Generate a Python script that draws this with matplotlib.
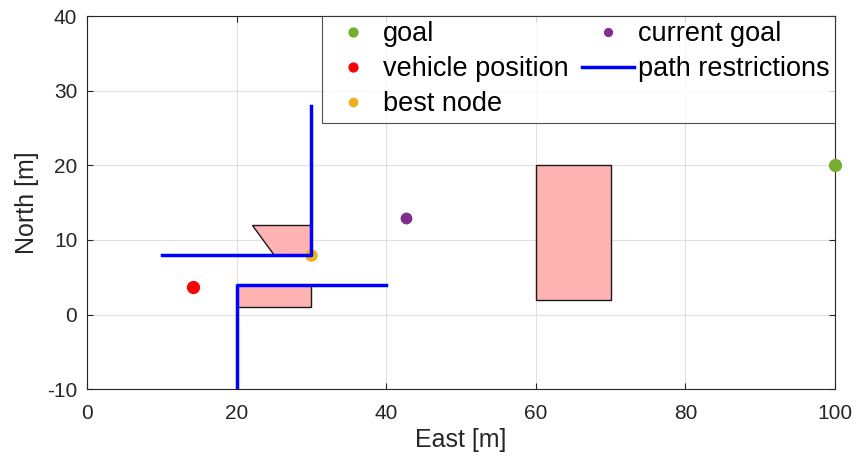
import numpy as np
import matplotlib.pyplot as plt
from matplotlib.patches import Polygon

plt.rcParams['font.family'] = ['Liberation Sans', 'DejaVu Sans']
plt.rcParams['axes.unicode_minus'] = False

# obstacles (polygon vertices, east/north)
obstacles = [
    [(22, 12), (30, 12), (30, 8), (25, 8)],
    [(20, 1), (30, 1), (30, 4), (20, 4)],
    [(60, 2), (70, 2), (70, 20), (60, 20)],
]

# path restriction polylines
path1_x = [10, 30, 30]
path1_y = [8, 8, 28]
path2_x = [20, 20, 40]
path2_y = [-10, 4, 4]

goal = (100, 20)
vehicle = (14.2, 3.7)
best_node = (30, 8)
current_goal = (42.6, 13)

DARK = (0.15, 0.15, 0.15)


def run():
    fig = plt.figure(figsize=(8.57, 4.66), dpi=100)
    ax = fig.add_axes([0.1015, 0.165, 0.8728, 0.8005])

    for verts in obstacles:
        ax.add_patch(Polygon(verts, closed=True, facecolor=(1, 0.7, 0.7),
                             edgecolor=(0.1, 0.1, 0.1), linewidth=1, zorder=2))

    ax.plot(*goal, 'o', color='#77AC30', ms=8.5, label='goal', zorder=4, clip_on=False)
    ax.plot(*vehicle, 'o', color='#FF0000', ms=8.5, label='vehicle position', zorder=4)
    ax.plot(*best_node, 'o', color='#EDB120', ms=8, label='best node', zorder=3)
    ax.plot(*current_goal, 'o', color='#7E2F8E', ms=7.5, label='current goal', zorder=4)
    ax.plot(path1_x, path1_y, color='#0000FF', lw=2.5, label='path restrictions', zorder=3)
    ax.plot(path2_x, path2_y, color='#0000FF', lw=2.5, zorder=3)

    ax.set_xlim(0, 100)
    ax.set_ylim(-10, 40)
    ax.set_xticks(np.arange(0, 101, 20))
    ax.set_yticks(np.arange(-10, 41, 10))
    ax.grid(True, color=(0.88, 0.88, 0.88), lw=0.8)
    ax.set_axisbelow(True)
    ax.tick_params(direction='in', labelsize=15, colors=DARK,
                   top=True, right=True, length=4)
    ax.tick_params(axis='x', pad=11)
    ax.tick_params(axis='y', pad=7)
    for s in ax.spines.values():
        s.set_color(DARK)
        s.set_linewidth(0.8)
    ax.set_xlabel('East [m]', fontsize=18, color=DARK, labelpad=3)
    ax.set_ylabel('North [m]', fontsize=18, color=DARK, labelpad=6)

    leg = ax.legend(loc='upper right', ncol=2, fontsize=19.5, frameon=True,
                    fancybox=False, edgecolor=DARK,
                    handlelength=1.9, handletextpad=0.15, columnspacing=0.5,
                    labelspacing=0.33, borderaxespad=0, borderpad=0.2,
                    markerscale=0.75)
    leg.get_frame().set_linewidth(0.8)

    fig.savefig('out.png', dpi=100)


if __name__ == "__main__":
    run()
